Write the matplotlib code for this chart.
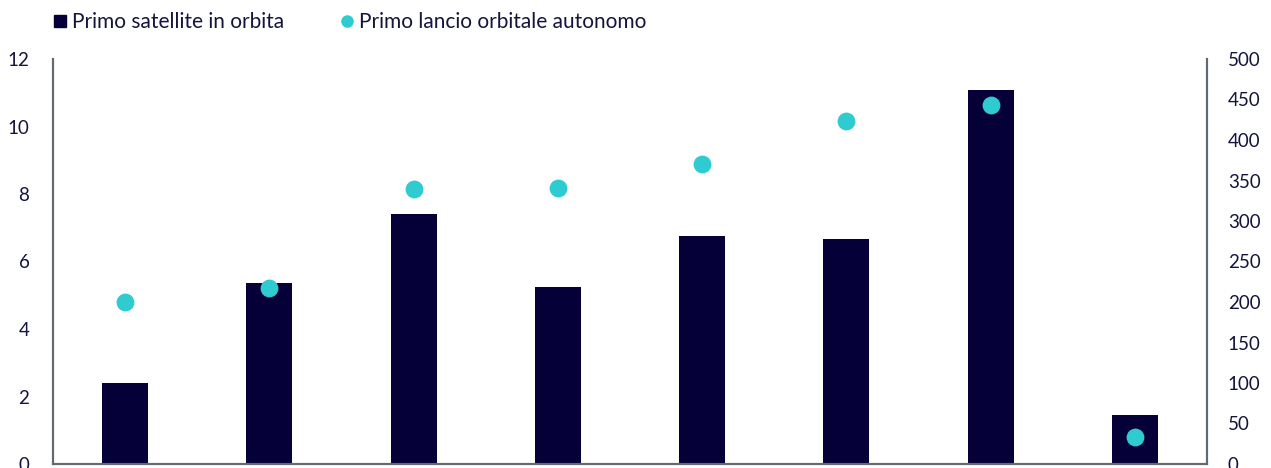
import numpy as np
import matplotlib.pyplot as plt
from matplotlib.lines import Line2D

plt.rcParams['font.family'] = ['Lato', 'DejaVu Sans']

# categories (x labels are cut off in the reference)
categories = ['A', 'B', 'C', 'D', 'E', 'F', 'G', 'H']
primo_satellite = [2.4, 5.35, 7.4, 5.25, 6.75, 6.67, 11.08, 1.45]
primo_lancio = [200, 217, 340, 341, 370, 423, 443, 33]

navy = '#050038'
teal = '#2ecbd0'
text_col = '#14143c'
spine_col = '#5f6b73'

fig = plt.figure(figsize=(12.71, 4.68), dpi=100)
ax = fig.add_axes([53 / 1271, 4 / 468, (1207 - 53) / 1271, (464 - 59) / 468])
ax2 = ax.twinx()

x = np.arange(len(categories))
ax.bar(x, primo_satellite, width=0.32, color=navy, zorder=2)
ax2.scatter(x, primo_lancio, s=140, color=teal, zorder=3)

ax.set_xlim(-0.5, len(categories) - 0.5)
ax.set_ylim(0, 12)
ax2.set_ylim(0, 500)
ax.set_yticks(range(0, 13, 2))
ax2.set_yticks(range(0, 501, 50))
ax.set_xticks([])

for a in (ax, ax2):
    a.spines['top'].set_visible(False)
    for s in ('left', 'right', 'bottom'):
        a.spines[s].set_color(spine_col)
        a.spines[s].set_linewidth(1.5)
ax.tick_params(axis='y', length=0, pad=17, labelsize=13.5, labelcolor=text_col)
ax2.tick_params(axis='y', length=0, pad=15, labelsize=13.5, labelcolor=text_col)
ax.set_zorder(ax2.get_zorder() - 1)
ax.patch.set_visible(True)
ax2.patch.set_visible(False)

handles = [
    Line2D([], [], marker='s', color=navy, linestyle='none', markersize=9),
    Line2D([], [], marker='o', color=teal, linestyle='none', markersize=8),
]
labels = ['Primo satellite in orbita', 'Primo lancio orbitale autonomo']
fig.legend(handles, labels, loc='upper left', bbox_to_anchor=(0.027, 1.014), ncol=2,
           frameon=False, fontsize=15, labelcolor=text_col, handletextpad=0.2,
           handlelength=0.7, columnspacing=2.7)

fig.savefig('out.png', dpi=100)
